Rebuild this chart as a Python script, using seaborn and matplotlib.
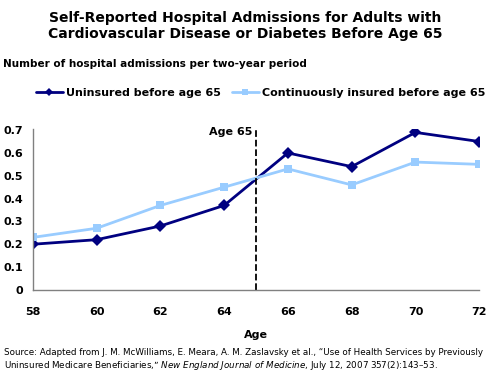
import matplotlib
matplotlib.use("Agg")
import matplotlib.pyplot as plt
import seaborn as sns
import pandas as pd

ages = [58, 60, 62, 64, 66, 68, 70, 72]
uninsured = [0.20, 0.22, 0.28, 0.37, 0.60, 0.54, 0.69, 0.65]
insured = [0.23, 0.27, 0.37, 0.45, 0.53, 0.46, 0.56, 0.55]
series_names = ["Uninsured before age 65", "Continuously insured before age 65"]
yticks = [0, 0.1, 0.2, 0.3, 0.4, 0.5, 0.6, 0.7]
ytick_labels = ["0", "0.1", "0.2", "0.3", "0.4", "0.5", "0.6", "0.7"]

sns.set_style("white")
plt.rcParams['font.family'] = ['DejaVu Sans']
plt.rcParams['text.color'] = 'black'
plt.rcParams['xtick.color'] = 'black'
plt.rcParams['ytick.color'] = 'black'
plt.rcParams['axes.labelcolor'] = 'black'

df = pd.DataFrame({
    "Age": ages * 2,
    "value": uninsured + insured,
    "series": [series_names[0]] * len(ages) + [series_names[1]] * len(ages),
})

fig = plt.figure(figsize=(4.9, 3.85), dpi=100)
ax = fig.add_axes([0.067, 0.247, 0.911, 0.418])

palette = {series_names[0]: "#000080", series_names[1]: "#99CCFF"}
sns.lineplot(data=df, x="Age", y="value", hue="series", style="series",
             markers={series_names[0]: "D", series_names[1]: "s"},
             dashes=False, palette=palette, linewidth=2, markersize=6,
             markeredgewidth=0, ax=ax, legend=True)

ax.axvline(65, ymin=0, ymax=1.0, color="black", linestyle="--", linewidth=1.3)
ax.text(64.9, 0.69, "Age 65", ha="right", va="center", fontsize=8, fontweight="bold")

ax.set_xlim(58, 72)
ax.set_ylim(0, 0.705)
ax.set_xticks(ages)
ax.set_xticklabels([str(a) for a in ages], fontsize=8, fontweight="bold")
ax.set_yticks(yticks)
ax.set_yticklabels(ytick_labels, fontsize=8, fontweight="bold")
ax.tick_params(axis="both", direction="out", length=3, color="#808080", width=1)
ax.tick_params(axis="x", pad=9)
ax.tick_params(axis="y", pad=4)
for s in ["top", "right"]:
    ax.spines[s].set_visible(False)
for s in ["left", "bottom"]:
    ax.spines[s].set_color("#808080")
    ax.spines[s].set_linewidth(1)
ax.set_xlabel("Age", fontsize=8, fontweight="bold", labelpad=10)
ax.set_ylabel("")

handles, labels = ax.get_legend_handles_labels()
leg = ax.legend(handles, labels, loc="center left",
                bbox_to_anchor=(26 / 490, 1 - 93 / 385), bbox_transform=fig.transFigure,
                ncol=2, frameon=False, prop={"size": 8, "weight": "bold"},
                handlelength=2.4, columnspacing=1.0, handletextpad=0.3)
for h in leg.legend_handles:
    h.set_markersize(4.5)

fig.text(0.5, 1 - 26 / 385, "Self-Reported Hospital Admissions for Adults with\nCardiovascular Disease or Diabetes Before Age 65",
         ha="center", va="center", fontsize=10, fontweight="bold", linespacing=1.2)
fig.text(3 / 490, 1 - 64 / 385, "Number of hospital admissions per two-year period",
         ha="left", va="center", fontsize=7.5, fontweight="bold")
fig.text(4 / 490, 1 - 360 / 385,
         "Source: Adapted from J. M. McWilliams, E. Meara, A. M. Zaslavsky et al., \u201cUse of Health Services by Previously\n"
         "Uninsured Medicare Beneficiaries,\u201d $\\it{New\\ England\\ Journal\\ of\\ Medicine}$, July 12, 2007 357(2):143\u201353.",
         ha="left", va="center", fontsize=6.3, linespacing=1.2)

fig.savefig("out.png", dpi=100)
